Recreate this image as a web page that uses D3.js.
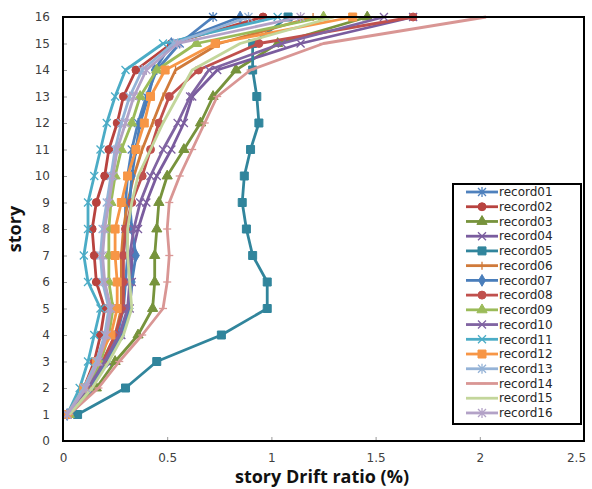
<!DOCTYPE html>
<html><head><meta charset="utf-8">
<script src="https://cdn.jsdelivr.net/npm/d3@7"></script>
<style>body{margin:0;background:#fff}svg{display:block}</style>
</head><body><svg id="c" width="592" height="489"></svg>
<script>
const stories = [1,2,3,4,5,6,7,8,9,10,11,12,13,14,15,16];
const xTicks = [0,0.5,1,1.5,2,2.5];
const yTicks = [0,1,2,3,4,5,6,7,8,9,10,11,12,13,14,15,16];
const seriesNames = ["record01","record02","record03","record04","record05","record06","record07","record08","record09","record10","record11","record12","record13","record14","record15","record16"];
const record01 = [0.02,0.13,0.20,0.26,0.29,0.30,0.31,0.30,0.30,0.31,0.33,0.36,0.40,0.45,0.56,0.72];
const record02 = [0.02,0.10,0.15,0.18,0.20,0.16,0.15,0.14,0.16,0.20,0.22,0.26,0.29,0.35,0.52,0.96];
const record03 = [0.03,0.16,0.25,0.36,0.43,0.44,0.44,0.45,0.46,0.50,0.58,0.66,0.72,0.83,1.03,1.46];
const record04 = [0.02,0.13,0.21,0.28,0.32,0.33,0.33,0.36,0.40,0.45,0.52,0.58,0.62,0.74,1.14,1.68];
const record05 = [0.07,0.30,0.45,0.76,0.98,0.98,0.91,0.88,0.86,0.87,0.90,0.94,0.93,0.91,0.91,1.08];
const record06 = [0.02,0.12,0.19,0.25,0.28,0.28,0.28,0.29,0.31,0.34,0.38,0.43,0.48,0.54,0.75,1.20];
const record07 = [0.02,0.13,0.21,0.28,0.32,0.33,0.35,0.33,0.32,0.33,0.35,0.37,0.41,0.44,0.52,0.85];
const record08 = [0.02,0.12,0.19,0.25,0.29,0.29,0.29,0.30,0.33,0.38,0.42,0.46,0.51,0.65,0.94,1.68];
const record09 = [0.03,0.12,0.18,0.22,0.24,0.22,0.22,0.22,0.23,0.25,0.28,0.33,0.37,0.45,0.64,1.25];
const record10 = [0.02,0.12,0.20,0.27,0.31,0.32,0.32,0.34,0.37,0.42,0.48,0.55,0.61,0.70,1.05,1.54];
const record11 = [0.02,0.08,0.12,0.15,0.18,0.12,0.10,0.12,0.12,0.15,0.18,0.21,0.25,0.30,0.48,1.03];
const record12 = [0.02,0.10,0.16,0.23,0.26,0.26,0.25,0.25,0.28,0.31,0.35,0.39,0.42,0.49,0.73,1.39];
const record13 = [0.02,0.10,0.16,0.20,0.22,0.19,0.18,0.19,0.21,0.23,0.25,0.28,0.32,0.38,0.53,0.89];
const record14 = [0.03,0.17,0.27,0.38,0.48,0.50,0.51,0.50,0.51,0.56,0.62,0.68,0.74,0.90,1.25,2.03];
const record15 = [0.03,0.14,0.22,0.29,0.33,0.32,0.31,0.31,0.33,0.36,0.42,0.48,0.55,0.62,0.85,1.30];
const record16 = [0.02,0.11,0.17,0.21,0.23,0.20,0.19,0.20,0.22,0.24,0.26,0.30,0.34,0.40,0.55,1.14];
const seriesValues = [record01,record02,record03,record04,record05,record06,record07,record08,record09,record10,record11,record12,record13,record14,record15,record16];
const colors = ["#4F81BD","#B8433F","#77933C","#7A5C9E","#31859C","#D07A3A","#4A7EBB","#C0504D","#9BBB59","#8064A2","#4BACC6","#F79646","#95B3D7","#D99694","#C3D69B","#B3A2C7"];
const markers = ["star","circle","triangle","x","square","plus","diamond","circle","triangle","x","x","square","star","dash","none","star"];

const svg = d3.select("#c");
const L=63,R=584,T=17,B=441;
const x = d3.scaleLinear().domain([0,2.5]).range([L,R]);
const y = d3.scaleLinear().domain([0,16]).range([B,T]);

const gx = svg.append("g").attr("transform",`translate(0,${B})`)
  .call(d3.axisBottom(x).tickValues(xTicks).tickSize(-4).tickPadding(12).tickFormat(d=>String(d)));
const gy = svg.append("g").attr("transform",`translate(${L},0)`)
  .call(d3.axisLeft(y).tickValues(yTicks).tickSize(-4).tickPadding(13).tickFormat(d=>String(d)));
[gx,gy].forEach(g=>{
  g.select(".domain").remove();
  g.selectAll(".tick line").attr("stroke","#999").attr("stroke-width",1);
  g.selectAll(".tick text").attr("fill","#404040").style("font-family","DejaVu Sans").style("font-size","12px");
});
gx.selectAll(".tick text").filter(d=>d===2.5).attr("dx",-8);

function markerPath(type){
  const s=4;
  switch(type){
    case "circle": return d3.symbol(d3.symbolCircle,50)();
    case "square": return d3.symbol(d3.symbolSquare,64)();
    case "triangle": return d3.symbol(d3.symbolTriangle,45)();
    case "diamond": return d3.symbol(d3.symbolDiamond,40)();
    case "x": return `M${-s},${-s}L${s},${s}M${-s},${s}L${s},${-s}`;
    case "star": return `M${-s},${-s}L${s},${s}M${-s},${s}L${s},${-s}M0,${-s-1}L0,${s+1}`;
    case "plus": return `M0,${-s}L0,${s}`;
    case "dash": return `M${-s},0L${s},0`;
  }
  return "";
}
const strokeOnly = t => t==="x"||t==="star"||t==="plus"||t==="dash";

const line = d3.line().x(d=>x(d[0])).y(d=>y(d[1]));
const plot = svg.append("g");
seriesValues.forEach((vals,i)=>{
  const pts = vals.map((v,j)=>[v,stories[j]]);
  const g = plot.append("g");
  g.append("path").attr("d",line(pts)).attr("fill","none").attr("stroke",colors[i]).attr("stroke-width",2.8).attr("stroke-linejoin","round");
  if(markers[i]!=="none"){
    g.selectAll("path.m").data(pts).enter().append("path").attr("class","m")
      .attr("transform",d=>`translate(${x(d[0])},${y(d[1])})`)
      .attr("d",markerPath(markers[i]))
      .attr("fill",strokeOnly(markers[i])?"none":colors[i])
      .attr("stroke",colors[i]).attr("stroke-width",strokeOnly(markers[i])?1.3:1);
  }
});

svg.append("rect").attr("x",L).attr("y",T).attr("width",R-L).attr("height",B-T).attr("fill","none").attr("stroke","#000").attr("stroke-width",2);

const lg = svg.append("g");
lg.append("rect").attr("x",453).attr("y",184).attr("width",128).attr("height",240).attr("fill","#fff").attr("stroke","#000").attr("stroke-width",2);
seriesNames.forEach((n,i)=>{
  const yy = 192 + i*14.73;
  lg.append("line").attr("x1",466).attr("x2",498).attr("y1",yy).attr("y2",yy).attr("stroke",colors[i]).attr("stroke-width",2.8);
  if(markers[i]!=="none"){
    lg.append("path").attr("transform",`translate(482,${yy})`).attr("d",markerPath(markers[i]))
      .attr("fill",strokeOnly(markers[i])?"none":colors[i]).attr("stroke",colors[i]).attr("stroke-width",strokeOnly(markers[i])?1.3:1);
  }
  lg.append("text").attr("x",499).attr("y",yy).attr("dy","0.35em").text(n)
    .style("font-family","DejaVu Sans").style("font-size","12px").attr("fill","#262626");
});

svg.append("text").attr("x",322).attr("y",483).attr("text-anchor","middle").text("story Drift ratio (%)")
  .style("font-family","Open Sans").style("font-weight","bold").style("font-size","18px").attr("fill","#111");
svg.append("text").attr("transform","translate(21,229) rotate(-90)").attr("text-anchor","middle").text("story")
  .style("font-family","Open Sans").style("font-weight","bold").style("font-size","18px").attr("fill","#111");
</script></body></html>
